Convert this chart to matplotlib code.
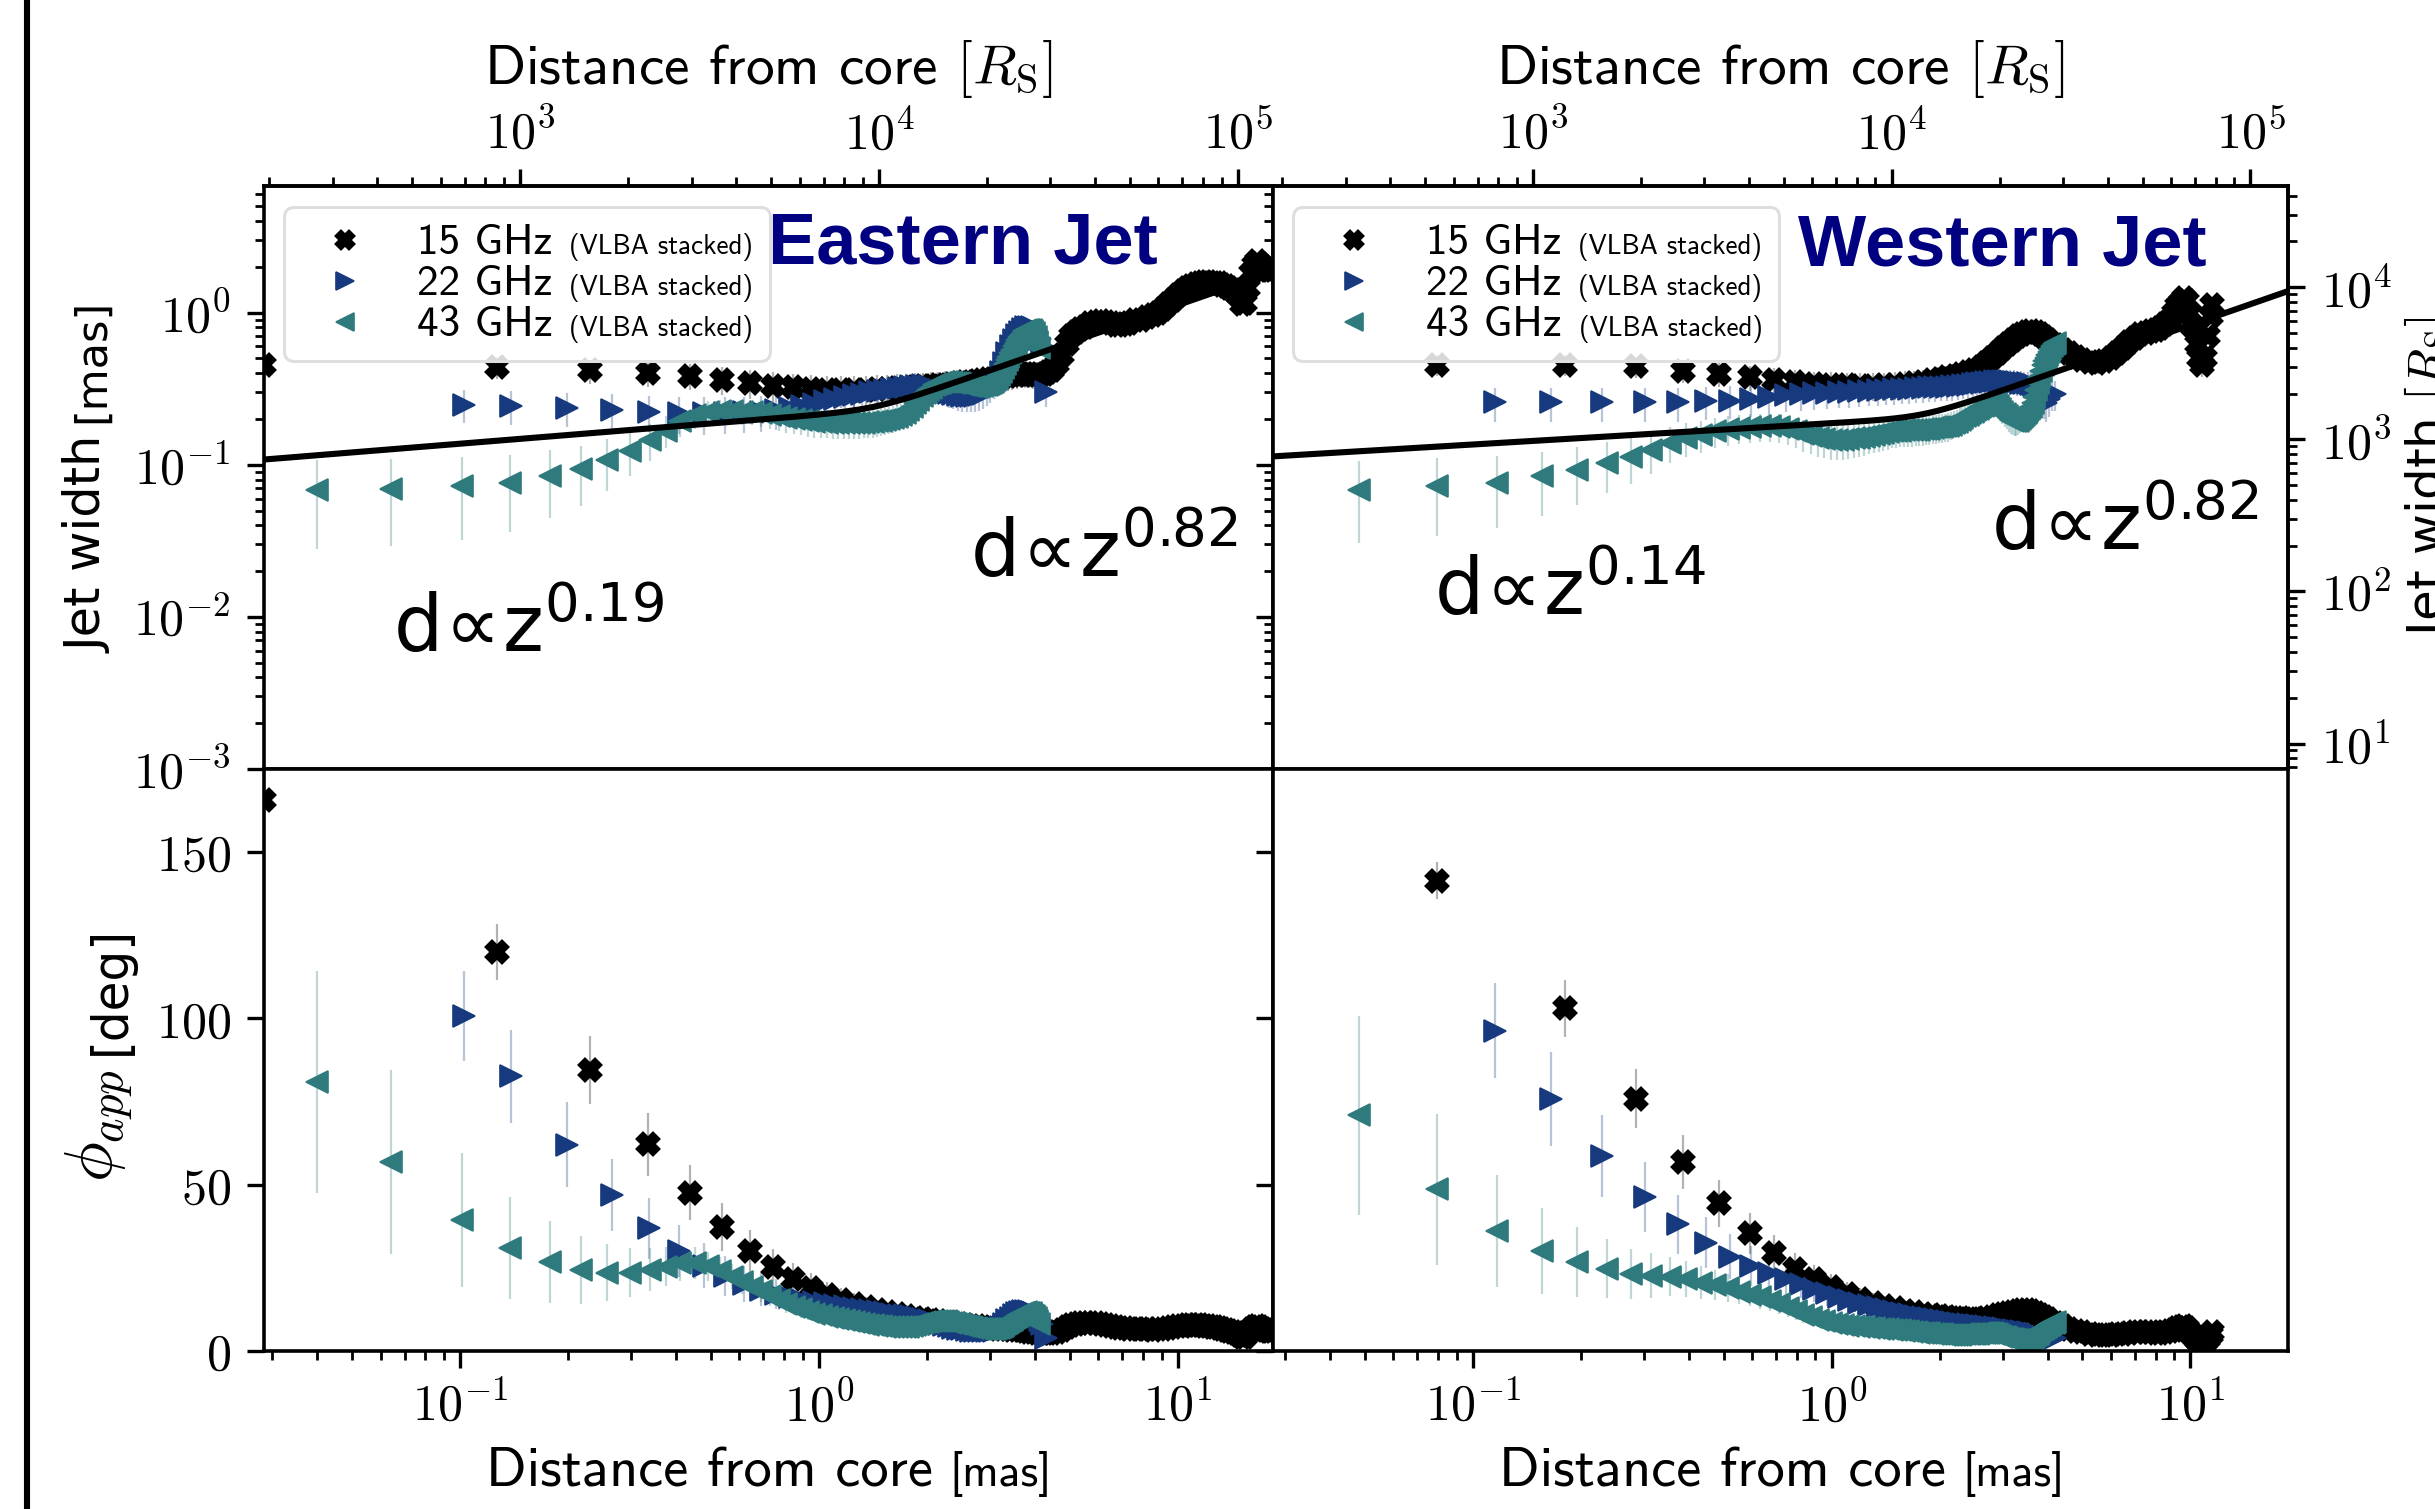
import numpy as np
import matplotlib
matplotlib.use("Agg")
import matplotlib.pyplot as plt
from matplotlib.lines import Line2D
from matplotlib.colors import to_rgba
from matplotlib.ticker import FuncFormatter, FixedLocator, NullLocator
from matplotlib.offsetbox import AnchoredOffsetbox, VPacker, HPacker, TextArea, DrawingArea

plt.rcParams['mathtext.fontset'] = 'cm'
plt.rcParams['font.family'] = ['DejaVu Sans']
plt.rcParams['axes.linewidth'] = 1.3

# ---------------- data (distance z [mas], jet width d [mas]) ----------------
RS_PER_MAS = 6.8e3

# Eastern jet
e15_z = [0.0284, 0.127, 0.230, 0.333, 0.436, 0.538, 0.641, 0.744, 0.846, 0.949, 1.05, 1.15, 1.25, 1.35,
         1.45, 1.55, 1.65, 1.75, 1.85, 1.95, 2.05, 2.15, 2.25, 2.35, 2.45, 2.55, 2.65, 2.75, 2.85, 2.95,
         3.05, 3.15, 3.25, 3.35, 3.45, 3.55, 3.65, 3.75, 3.85, 3.95, 4.05, 4.15, 4.25, 4.35, 4.45, 4.6,
         4.75, 4.9, 5.05, 5.2, 5.35, 5.5, 5.7, 5.9, 6.1, 6.3, 6.5, 6.7, 6.9, 7.1, 7.3, 7.6, 7.9, 8.2,
         8.5, 8.8, 9.1, 9.4, 9.7, 10.0, 10.3, 10.6, 10.9, 11.2, 11.5, 11.8, 12.1, 12.4, 12.7, 13.0, 13.3,
         13.6, 13.9, 14.2, 14.5, 14.8, 15.1, 15.4, 15.7, 16.0, 16.3, 16.6, 16.9, 17.2, 17.5, 17.8, 18.1, 18.4]
e15_w = [0.45, 0.44, 0.417, 0.401, 0.385, 0.362, 0.344, 0.332, 0.323, 0.316, 0.311, 0.310, 0.310, 0.311,
         0.313, 0.316, 0.319, 0.322, 0.325, 0.328, 0.331, 0.334, 0.337, 0.340, 0.344, 0.348, 0.352, 0.356,
         0.360, 0.364, 0.368, 0.372, 0.377, 0.382, 0.387, 0.391, 0.394, 0.395, 0.394, 0.392, 0.390, 0.391,
         0.396, 0.405, 0.42, 0.46, 0.53, 0.62, 0.70, 0.75, 0.78, 0.81, 0.85, 0.875, 0.88, 0.87, 0.85,
         0.835, 0.83, 0.84, 0.86, 0.89, 0.90, 0.93, 0.96, 1.00, 1.06, 1.14, 1.22, 1.31, 1.38, 1.45, 1.50,
         1.54, 1.57, 1.58, 1.58, 1.57, 1.57, 1.56, 1.53, 1.49, 1.46, 1.42, 1.35, 1.28, 1.14, 1.16, 1.45,
         1.82, 2.05, 2.2, 2.1, 2.0, 1.93, 1.9, 1.9, 1.9]
e15_err = 0.075

e22_z = [0.1026, 0.139, 0.198, 0.265, 0.336, 0.408, 0.478, 0.548, 0.618, 0.688, 0.758, 0.828, 0.898,
         0.968, 1.038, 1.108, 1.178, 1.248, 1.318, 1.388, 1.458, 1.528, 1.598, 1.668, 1.738, 1.808, 1.878,
         1.948, 2.018, 2.088, 2.158, 2.228, 2.298, 2.368, 2.438, 2.508, 2.578, 2.648, 2.718, 2.788, 2.858,
         2.928, 2.998, 3.068, 3.138, 3.208, 3.278, 3.348, 3.418, 3.488, 3.558, 3.628, 3.698, 3.768, 3.838,
         3.908, 3.978, 4.048, 4.118, 4.188, 4.28]
e22_w = [0.248, 0.244, 0.238, 0.230, 0.224, 0.219, 0.218, 0.219, 0.221, 0.224, 0.229, 0.235, 0.243,
         0.252, 0.262, 0.270, 0.278, 0.286, 0.293, 0.299, 0.305, 0.310, 0.315, 0.320, 0.325, 0.329,
         0.332, 0.333, 0.330, 0.322, 0.311, 0.302, 0.296, 0.291, 0.287, 0.284, 0.282, 0.282, 0.283,
         0.287, 0.294, 0.304, 0.316, 0.33, 0.36, 0.41, 0.47, 0.54, 0.60, 0.66, 0.71, 0.75, 0.78, 0.80,
         0.81, 0.81, 0.79, 0.74, 0.67, 0.60, 0.30]
e22_err = 0.06

e43_z = [0.0398, 0.064, 0.1009, 0.138, 0.178, 0.217, 0.257, 0.297, 0.338, 0.374, 0.411, 0.451, 0.491,
         0.531, 0.571, 0.611, 0.651, 0.691, 0.731, 0.771, 0.811, 0.851, 0.891, 0.931, 0.971, 1.011,
         1.051, 1.091, 1.131, 1.171, 1.211, 1.251, 1.291, 1.331, 1.371, 1.411, 1.451, 1.491, 1.531,
         1.571, 1.611, 1.651, 1.691, 1.731, 1.771, 1.811, 1.851, 1.891, 1.931, 1.971, 2.011, 2.051,
         2.091, 2.131, 2.171, 2.211, 2.251, 2.291, 2.331, 2.371, 2.411, 2.451, 2.491, 2.531, 2.571,
         2.611, 2.651, 2.691, 2.731, 2.771, 2.811, 2.851, 2.891, 2.931, 2.971, 3.011, 3.051, 3.091,
         3.131, 3.171, 3.211, 3.251, 3.291, 3.331, 3.371, 3.411, 3.451, 3.491, 3.531, 3.571, 3.611,
         3.651, 3.691, 3.731, 3.771, 3.811, 3.851, 3.891, 3.931, 3.971, 4.011, 4.051, 4.091]
e43_w = [0.0678, 0.0692, 0.072, 0.0764, 0.0847, 0.0937, 0.107, 0.124, 0.146, 0.168, 0.193, 0.212, 0.222,
         0.226, 0.226, 0.224, 0.222, 0.218, 0.213, 0.208, 0.203, 0.199, 0.196, 0.193, 0.191, 0.190,
         0.189, 0.188, 0.188, 0.188, 0.188, 0.188, 0.188, 0.189, 0.190, 0.191, 0.193, 0.195, 0.197,
         0.200, 0.203, 0.207, 0.212, 0.219, 0.228, 0.240, 0.253, 0.268, 0.283, 0.297, 0.310, 0.322,
         0.333, 0.341, 0.346, 0.349, 0.350, 0.350, 0.349, 0.347, 0.345, 0.343, 0.340, 0.337, 0.334,
         0.332, 0.330, 0.328, 0.327, 0.327, 0.328, 0.330, 0.333, 0.337, 0.341, 0.346, 0.352, 0.360,
         0.372, 0.39, 0.41, 0.435, 0.46, 0.49, 0.515, 0.54, 0.57, 0.60, 0.63, 0.66, 0.69, 0.715, 0.74,
         0.755, 0.765, 0.772, 0.775, 0.77, 0.755, 0.73, 0.69, 0.64, 0.59]
e43_err = 0.04

# Western jet
w15_z = [0.0796, 0.181, 0.284, 0.384, 0.486, 0.591, 0.690, 0.792, 0.891, 0.997, 1.10, 1.20, 1.30, 1.40,
         1.50, 1.60, 1.70, 1.80, 1.90, 2.0, 2.1, 2.2, 2.3, 2.4, 2.5, 2.6, 2.7, 2.8, 2.9, 3.0, 3.1, 3.2,
         3.3, 3.4, 3.5, 3.6, 3.7, 3.8, 3.9, 4.0, 4.2, 4.4, 4.6, 4.8, 5.0, 5.25, 5.5, 5.75, 6.0, 6.25,
         6.5, 6.75, 7.0, 7.25, 7.5, 7.75, 8.0, 8.25, 8.5, 8.75, 9.0, 9.2, 9.4, 9.6, 9.8, 10.0, 10.2,
         10.4, 10.6, 10.8, 11.0, 11.2, 11.4, 11.5]
w15_w = [0.455, 0.455, 0.443, 0.415, 0.397, 0.377, 0.362, 0.348, 0.340, 0.336, 0.333, 0.331, 0.332,
         0.334, 0.337, 0.341, 0.346, 0.352, 0.359, 0.367, 0.376, 0.386, 0.397, 0.408, 0.421, 0.44,
         0.47, 0.505, 0.545, 0.585, 0.625, 0.665, 0.70, 0.728, 0.748, 0.755, 0.745, 0.72, 0.69, 0.665,
         0.615, 0.572, 0.54, 0.512, 0.49, 0.475, 0.467, 0.478, 0.505, 0.543, 0.59, 0.64, 0.685, 0.72,
         0.74, 0.755, 0.77, 0.79, 0.84, 0.90, 1.0, 1.1, 1.18, 1.24, 1.2, 1.0, 0.80, 0.62, 0.50, 0.45,
         0.50, 0.70, 0.95, 1.12]
w15_err = 0.07

w22_z = [0.115, 0.165, 0.229, 0.301, 0.372, 0.447, 0.522, 0.596, 0.670, 0.745, 0.82, 0.895, 0.97, 1.045,
         1.12, 1.195, 1.27, 1.345, 1.42, 1.495, 1.57, 1.645, 1.72, 1.795, 1.87, 1.945, 2.02, 2.095, 2.17,
         2.245, 2.32, 2.395, 2.47, 2.545, 2.62, 2.695, 2.77, 2.845, 2.92, 2.995, 3.07, 3.145, 3.22,
         3.295, 3.37, 3.445, 3.52, 3.595, 3.67, 3.745, 3.82, 3.895, 3.97, 4.045, 4.12, 4.2]
w22_w = [0.257, 0.257, 0.257, 0.257, 0.257, 0.261, 0.264, 0.271, 0.279, 0.286, 0.292, 0.295, 0.297,
         0.300, 0.302, 0.305, 0.307, 0.309, 0.311, 0.313, 0.315, 0.317, 0.319, 0.321, 0.323, 0.324,
         0.326, 0.327, 0.329, 0.331, 0.334, 0.337, 0.340, 0.343, 0.346, 0.349, 0.351, 0.353, 0.354,
         0.355, 0.355, 0.354, 0.352, 0.350, 0.347, 0.345, 0.343, 0.340, 0.335, 0.325, 0.30, 0.265,
         0.255, 0.27, 0.29, 0.29]
w22_err = 0.065

w43_z = [0.0482, 0.0796, 0.117, 0.156, 0.195, 0.236, 0.275, 0.313, 0.354, 0.393, 0.432, 0.474, 0.513,
         0.553, 0.593, 0.633, 0.673, 0.713, 0.753, 0.793, 0.833, 0.873, 0.913, 0.953, 0.993, 1.033,
         1.073, 1.113, 1.153, 1.193, 1.233, 1.273, 1.313, 1.353, 1.393, 1.433, 1.473, 1.513, 1.553,
         1.593, 1.633, 1.673, 1.713, 1.753, 1.793, 1.833, 1.873, 1.913, 1.953, 1.993, 2.033, 2.073,
         2.113, 2.153, 2.193, 2.233, 2.273, 2.313, 2.353, 2.393, 2.433, 2.473, 2.513, 2.553, 2.593,
         2.633, 2.673, 2.713, 2.753, 2.793, 2.833, 2.873, 2.913, 2.953, 2.993, 3.033, 3.073, 3.113,
         3.153, 3.193, 3.233, 3.273, 3.313, 3.353, 3.393, 3.433, 3.473, 3.513, 3.553, 3.593, 3.633,
         3.673, 3.713, 3.753, 3.793, 3.833, 3.873, 3.913, 3.953, 3.993, 4.033, 4.073, 4.113, 4.153, 4.193]
w43_w = [0.0686, 0.072, 0.0764, 0.0838, 0.0927, 0.1035, 0.113, 0.1255, 0.140, 0.150, 0.157, 0.166,
         0.171, 0.174, 0.177, 0.179, 0.179, 0.177, 0.172, 0.166, 0.160, 0.155, 0.151, 0.148, 0.146,
         0.146, 0.146, 0.147, 0.149, 0.151, 0.153, 0.155, 0.157, 0.159, 0.162, 0.164, 0.166, 0.167,
         0.168, 0.169, 0.169, 0.169, 0.170, 0.170, 0.171, 0.172, 0.173, 0.175, 0.176, 0.177, 0.178,
         0.179, 0.180, 0.183, 0.187, 0.192, 0.197, 0.203, 0.209, 0.214, 0.219, 0.224, 0.229, 0.234,
         0.239, 0.244, 0.249, 0.253, 0.256, 0.257, 0.255, 0.250, 0.242, 0.233, 0.224, 0.216, 0.209,
         0.203, 0.198, 0.195, 0.193, 0.193, 0.195, 0.199, 0.205, 0.212, 0.219, 0.226, 0.232, 0.240,
         0.255, 0.28, 0.31, 0.345, 0.38, 0.415, 0.45, 0.48, 0.505, 0.53, 0.55, 0.575, 0.60, 0.62, 0.63]
w43_err = 0.038

# broken power-law fits:  d = ((B z^a1)^n + (A z^a2)^n)^(1/n)
fit_east = dict(B=0.213, a1=0.19, A=0.17, a2=0.82)
fit_west = dict(B=0.1876, a1=0.14, A=0.1255, a2=0.82)

legend_entries = [('15 GHz', 'X'), ('22 GHz', '>'), ('43 GHz', '<')]

# ---------------- styling ----------------
C15, C22, C43 = '#000000', '#173a7e', '#2e7a7c'
MS = 8.0
MEW = {'X': 1.5, '>': 0.6, '<': 0.6}
TICK_FS = 18

fig = plt.figure(figsize=(12.175, 7.545), dpi=200)
axTL = fig.add_axes([0.1084, 0.4904, 0.4144, 0.3863])
axTR = fig.add_axes([0.5228, 0.4904, 0.4168, 0.3863])
axBL = fig.add_axes([0.1084, 0.1047, 0.4144, 0.3857])
axBR = fig.add_axes([0.5228, 0.1047, 0.4168, 0.3857])

# thick vertical bar at the left border of the figure
fig.add_artist(Line2D([0.0111, 0.0111], [0, 1], transform=fig.transFigure, color='k', lw=2.2))


def plot_series(axw, axp, z, w, err, marker, color):
    z = np.asarray(z, float)
    w = np.asarray(w, float)
    phi = np.degrees(2 * np.arctan(w / (2 * z)))
    dphi = np.degrees(err / z / (1 + (w / (2 * z)) ** 2))
    ec = to_rgba(color, 0.3)
    ms = MS * (0.9 if marker == 'X' else 1.0)
    for ax, y, e in ((axw, w, err), (axp, phi, dphi)):
        ax.errorbar(z, y, yerr=e, fmt=marker, color=color, ms=ms, mew=MEW[marker], mec=color,
                    ecolor=ec, elinewidth=0.8, capsize=0)


def fit_curve(z, B, a1, A, a2, n=12):
    return ((B * z ** a1) ** n + (A * z ** a2) ** n) ** (1.0 / n)


def logfmt(v, pos):
    if v <= 0:
        return ''
    e = int(np.round(np.log10(v)))
    return r'$10^{%d}$' % e


def linfmt(v, pos):
    return r'$%d$' % int(v)


series = [
    (axTL, axBL, e15_z, e15_w, e15_err, 'X', C15),
    (axTL, axBL, e22_z, e22_w, e22_err, '>', C22),
    (axTL, axBL, e43_z, e43_w, e43_err, '<', C43),
    (axTR, axBR, w15_z, w15_w, w15_err, 'X', C15),
    (axTR, axBR, w22_z, w22_w, w22_err, '>', C22),
    (axTR, axBR, w43_z, w43_w, w43_err, '<', C43),
]
for s in series:
    plot_series(*s)

xl_left = (0.0284, 18.4)
xl_right = (0.0277, 18.7)
for ax, xl in ((axTL, xl_left), (axBL, xl_left), (axTR, xl_right), (axBR, xl_right)):
    ax.set_xscale('log')
    ax.set_xlim(*xl)

for ax, fit in ((axTL, fit_east), (axTR, fit_west)):
    x0, x1 = ax.get_xlim()
    zz = np.logspace(np.log10(x0), np.log10(x1), 500)
    ax.plot(zz, fit_curve(zz, **fit), color='k', lw=2.2, zorder=6)
    ax.set_yscale('log')
    ax.set_ylim(1e-3, 6.8)

for ax in (axBL, axBR):
    ax.set_ylim(0, 175)
    ax.yaxis.set_major_locator(FixedLocator([0, 50, 100, 150]))
    ax.yaxis.set_minor_locator(NullLocator())
    ax.yaxis.set_major_formatter(FuncFormatter(linfmt))

for ax in (axTL, axTR, axBL, axBR):
    ax.tick_params(which='both', direction='out', top=False, right=False, labelsize=TICK_FS)
    ax.tick_params(which='major', length=6, width=1.2)
    ax.tick_params(which='minor', length=3.3, width=1.0)
    ax.tick_params(axis='y', pad=6)
    ax.tick_params(axis='x', pad=5)
    ax.xaxis.set_major_formatter(FuncFormatter(logfmt))
for ax in (axTL, axTR):
    ax.yaxis.set_major_formatter(FuncFormatter(logfmt))
    ax.tick_params(axis='x', which='both', bottom=False, labelbottom=False)
for ax in (axTR, axBR):
    ax.tick_params(axis='y', which='both', labelleft=False)

# secondary axes in Schwarzschild radii
to_rs = (lambda x: x * RS_PER_MAS, lambda x: x / RS_PER_MAS)
for ax in (axTL, axTR):
    sec = ax.secondary_xaxis('top', functions=to_rs)
    sec.xaxis.set_major_formatter(FuncFormatter(logfmt))
    sec.tick_params(which='both', direction='out', labelsize=TICK_FS, pad=4)
    sec.tick_params(which='major', length=6, width=1.2)
    sec.tick_params(which='minor', length=3.3, width=1.0)
    sec.set_xlabel(r'Distance from core $[R_\mathrm{S}]$', family='cmss10', fontsize=20.6, labelpad=9)
secy = axTR.secondary_yaxis('right', functions=to_rs)
secy.yaxis.set_major_formatter(FuncFormatter(logfmt))
secy.tick_params(which='both', direction='out', labelsize=TICK_FS, pad=6)
secy.tick_params(which='major', length=6, width=1.2)
secy.tick_params(which='minor', length=3.3, width=1.0)
secy.set_ylabel(r'Jet width $[R_\mathrm{S}]$', fontsize=18, labelpad=3.5)

# left labels with smaller unit parts
axTL.set_ylabel('Jet width', fontsize=17.8)
axTL.yaxis.set_label_coords(-0.150, 0.384)
axTL.annotate('[mas]', xy=(1, 1), xycoords=axTL.yaxis.label, xytext=(0, 5), textcoords='offset points',
              rotation=90, rotation_mode='anchor', ha='left', va='bottom', fontsize=15.5)
axBL.set_ylabel(r'$\phi_{app}$', fontsize=24)
axBL.yaxis.set_label_coords(-0.128, 0.387)
axBL.annotate('[deg]', xy=(1, 1), xycoords=axBL.yaxis.label, xytext=(0, 5), textcoords='offset points',
              rotation=90, rotation_mode='anchor', ha='left', va='bottom', fontsize=17.5)

for ax, xc in ((axBL, 0.441), (axBR, 0.443)):
    ax.set_xlabel('Distance from core', family='cmss10', fontsize=20.3)
    ax.xaxis.set_label_coords(xc, -0.165)
    ax.annotate('[mas]', xy=(1, 0), xycoords=ax.xaxis.label, xytext=(6, 0), textcoords='offset points',
                ha='left', va='bottom', family='cmss10', fontsize=16.5)

# legends
def add_legend(ax):
    rows = []
    colors = {'X': C15, '>': C22, '<': C43}
    for label, mk in legend_entries:
        da = DrawingArea(36, 10, 0, 0)
        ms = MS * (0.75 if mk == 'X' else 0.85)
        da.add_artist(Line2D([16], [5.0], marker=mk, color=colors[mk], ms=ms, mew=MEW[mk],
                             mec=colors[mk], ls='none'))
        t1 = TextArea(label, textprops=dict(family='cmss10', size=15.5))
        t2 = TextArea('(VLBA stacked)', textprops=dict(family='cmss10', size=9.8))
        rows.append(HPacker(children=[da, t1, t2], align='baseline', pad=0, sep=6))
    vp = VPacker(children=rows, align='left', pad=4, sep=1.2)
    ab = AnchoredOffsetbox(loc='upper left', child=vp, pad=0.2, borderpad=0, frameon=True,
                           bbox_to_anchor=(0.0198, 0.964), bbox_transform=ax.transAxes)
    ab.patch.set_boxstyle('round,pad=0,rounding_size=0.35')
    ab.patch.set_edgecolor('0.87')
    ab.patch.set_linewidth(1.1)
    ab.patch.set_facecolor((1, 1, 1, 0.85))
    ab.set_zorder(8)
    ax.add_artist(ab)

add_legend(axTL)
add_legend(axTR)

# titles and power-law annotations
axTL.text(0.500, 0.868, 'Eastern Jet', transform=axTL.transAxes, family='Liberation Sans',
          weight='bold', color='#000080', fontsize=26, ha='left', va='baseline', zorder=9)
axTR.text(0.517, 0.863, 'Western Jet', transform=axTR.transAxes, family='Liberation Sans',
          weight='bold', color='#000080', fontsize=26, ha='left', va='baseline', zorder=9)

for ax, x, y, p in ((axTL, 0.128, 0.200, '0.19'), (axTL, 0.700, 0.329, '0.82'),
                    (axTR, 0.159, 0.265, '0.14'), (axTR, 0.707, 0.376, '0.82')):
    ax.text(x, y, r'$\mathrm{d}\!\propto\!\mathrm{z}^{%s}$' % p, transform=ax.transAxes,
            math_fontfamily='dejavusans', fontsize=28, ha='left', va='baseline', zorder=9)

fig.savefig('out.png', dpi=200)
